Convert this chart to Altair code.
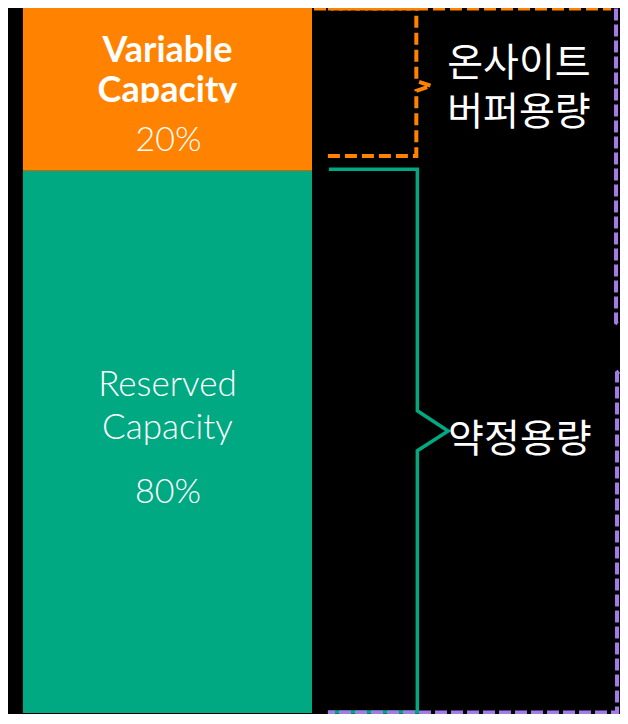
import altair as alt
import pandas as pd

# ---------------- data ----------------
segments = ["Reserved Capacity", "Variable Capacity"]
segment_titles = ["Reserved\nCapacity", "Variable\nCapacity"]
shares = ["80%", "20%"]
drawn_share = [76.7, 23.3]          # segment heights as drawn (% of bar height)
colors = ["#01A982", "#FF8300"]

buffer_lines = ["온사이트", "버퍼용량"]
committed_label = "약정용량"

# ---------------- layout ----------------
W, H = 612, 706
# diagram units (reference pixels) shown in the plot area
XD = [8, 624]
YD = [8, 724]
SY = H / (YD[1] - YD[0])
ORANGE, GREEN, PURPLE = "#FF8300", "#01A982", "#A47CE8"
LATIN = "Lato"
KOREAN = "Noto Sans CJK KR"

xs = alt.Scale(domain=XD, range=[0, W])
ys = alt.Scale(domain=YD, range=[0, H])

# stacked bar (bounds computed from the drawn shares); bar spans 723 -> 6 in diagram units
BAR_BOTTOM, BAR_TOP = 723, 6
bottoms, tops, acc = [], [], 0.0
for v in drawn_share:
    bottoms.append(acc)
    acc += v
    tops.append(acc)
bar_df = pd.DataFrame({"segment": segments, "lo": bottoms, "hi": tops,
                       "left": 23, "right": 314})
bar = alt.Chart(bar_df).mark_rect().encode(
    x=alt.X("left:Q", scale=xs, axis=None),
    x2="right:Q",
    y=alt.Y("lo:Q", scale=alt.Scale(domain=[0, 100],
                                      range=[(BAR_BOTTOM - YD[0]) * SY, (BAR_TOP - YD[0]) * SY]),
            axis=None),
    y2="hi:Q",
    color=alt.Color("segment:N", scale=alt.Scale(domain=segments, range=colors), legend=None),
)


def path(points, color, width, dash=None):
    df = pd.DataFrame({"x": [p[0] for p in points], "y": [p[1] for p in points],
                       "i": list(range(len(points)))})
    kw = dict(color=color, strokeWidth=width, strokeJoin="miter", strokeCap="butt",
              clip=True)
    if dash:
        kw["strokeDash"] = dash
    return alt.Chart(df).mark_line(**kw).encode(
        x=alt.X("x:Q", scale=xs, axis=None),
        y=alt.Y("y:Q", scale=ys, axis=None),
        order="i:Q",
    )


green_br = path([(331, 171.5), (420, 171.5), (420, 416.5), (451, 437), (420, 457),
                 (420, 722), (330, 722)], GREEN, 3.5)
purple_br = path([(620, 8.5), (620, 327), (657, 352), (621, 378), (621, 722.5),
                  (330, 722.5)], PURPLE, 4, [12, 4])
orange_br = path([(330, 158), (419, 158), (419, 92), (434, 87), (419, 82),
                  (419, 8.5), (330, 8.5)], ORANGE, 4, [12, 5])
orange_top = path([(316, 8.5), (615, 8.5)], ORANGE, 4, [12, 5])


def text_layer(rows, font, size, weight, align="center", line_height=None):
    df = pd.DataFrame(rows, columns=["t", "x", "y"])
    kw = dict(font=font, fontSize=size, fontWeight=weight, color="white",
              align=align, baseline="alphabetic", lineBreak="\n")
    if line_height:
        kw["lineHeight"] = line_height
    return alt.Chart(df).mark_text(**kw).encode(
        x=alt.X("x:Q", scale=xs, axis=None),
        y=alt.Y("y:Q", scale=ys, axis=None),
        text="t:N",
    )


var_title = text_layer([(segment_titles[1], 168.5, 63)], LATIN, 36, "bold", line_height=40)
# the title box in the original cuts the second line at its baseline
cut_df = pd.DataFrame({"x": [90], "x2": [250], "y": [104], "y2": [116]})
var_cut = alt.Chart(cut_df).mark_rect(color=ORANGE).encode(
    x=alt.X("x:Q", scale=xs, axis=None), x2="x2:Q",
    y=alt.Y("y:Q", scale=ys, axis=None), y2="y2:Q")
var_share = text_layer([(shares[1], 169.5, 153)], LATIN, 34, 300)
res_title = text_layer([(segment_titles[0], 168.5, 401)], LATIN, 35, 300, line_height=43)
res_share = text_layer([(shares[0], 169, 510)], LATIN, 34, 300)

kor = text_layer([(buffer_lines[0], 450, 77), (buffer_lines[1], 450, 127),
                  (committed_label, 451, 458)],
                 KOREAN, 39, "normal", align="left")

chart = alt.layer(
    bar, var_title, var_cut, var_share, res_title, res_share,
    green_br, purple_br, orange_br, orange_top, kor,
).resolve_scale(y="independent").properties(
    width=W, height=H,
    autosize=alt.AutoSizeParams(type="none"),
    padding=0,
    background="black",
).configure_view(stroke=None)

chart.save("out.html", embed_options={"renderer": "svg", "actions": False})
